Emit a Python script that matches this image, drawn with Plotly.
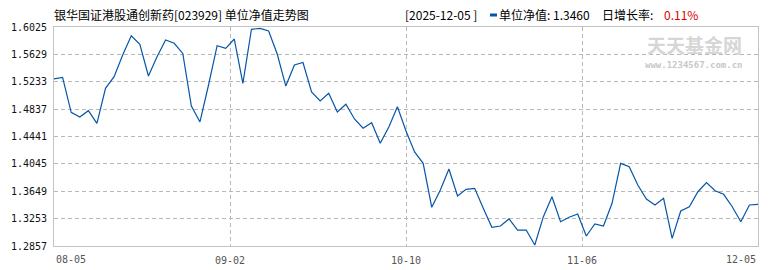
import plotly.graph_objects as go

title_text = "银华国证港股通创新药[023929] 单位净值走势图"
date_text = "[2025-12-05 ]"
nav_label = "单位净值: 1.3460"
growth_label = "日增长率: "
growth_value = "0.11%"

x_labels = ["08-05", "09-02", "10-10", "11-06", "12-05"]
y_ticks = [1.2857, 1.3253, 1.3649, 1.4045, 1.4441, 1.4837, 1.5233, 1.5629, 1.6025]

nav = [
    1.5273, 1.5297, 1.4790, 1.4723, 1.4814, 1.4632, 1.5138, 1.5306, 1.5620, 1.5899,
    1.5775, 1.5316, 1.5595, 1.5837, 1.5789, 1.5642, 1.4882, 1.4651, 1.5186, 1.5755,
    1.5717, 1.5851, 1.5210, 1.5992, 1.6006, 1.5967, 1.5634, 1.5171, 1.5475, 1.5511,
    1.5085, 1.4955, 1.5066, 1.4795, 1.4907, 1.4694, 1.4560, 1.4641, 1.4343, 1.4579,
    1.4872, 1.4520, 1.4217, 1.4053, 1.3417, 1.3667, 1.3971, 1.3580, 1.3677, 1.3692,
    1.3402, 1.3127, 1.3146, 1.3248, 1.3088, 1.3088, 1.2871, 1.3281, 1.3570, 1.3208,
    1.3272, 1.3320, 1.3002, 1.3175, 1.3146, 1.3475, 1.4053, 1.4004, 1.3739, 1.3537,
    1.3450, 1.3547, 1.2968, 1.3363, 1.3425, 1.3642, 1.3773, 1.3657, 1.3605, 1.3425,
    1.3208, 1.3450, 1.3460,
]

n = len(nav)
xs = list(range(n))
last = n - 1
tick_pos = [last * f for f in (0, 0.25, 0.5, 0.75, 1.0)]

LINE = "#0656a8"
GRID = "#b8b8b8"
FRAME = "#c4c4c4"
CJK = "Noto Sans CJK SC"
MONO = "DejaVu Sans Mono"

fig = go.Figure()
fig.add_trace(go.Scatter(x=xs, y=nav, mode="lines",
                         line=dict(color=LINE, width=1.2), hoverinfo="skip"))

fig.update_layout(
    width=770, height=270,
    margin=dict(l=54, r=12, t=27, b=24),
    paper_bgcolor="white", plot_bgcolor="white",
    showlegend=False, hovermode=False,
)

fig.update_xaxes(
    range=[0, last], tickmode="array",
    tickvals=tick_pos[1:-1], ticktext=x_labels[1:-1],
    showgrid=True, gridcolor=GRID, griddash="4px,3px", gridwidth=1,
    showline=True, linecolor=FRAME, linewidth=1, mirror=True,
    ticks="", tickfont=dict(family=MONO, size=10, color="#555555"),
    ticklabelstandoff=5, automargin=False,
    zeroline=False, fixedrange=True,
)
fig.update_yaxes(
    range=[y_ticks[0], y_ticks[-1]], tickmode="array",
    tickvals=y_ticks, ticktext=[f"{v:.4f}" for v in y_ticks],
    showgrid=True, gridcolor=GRID, griddash="4px,3px", gridwidth=1,
    showline=True, linecolor=FRAME, linewidth=1, mirror=True,
    ticks="", tickfont=dict(family=MONO, size=10, color="#111111"),
    ticklabelstandoff=4, automargin=False,
    zeroline=False, fixedrange=True,
)

# end x labels (first left-aligned, last right-aligned)
fig.add_annotation(x=tick_pos[0], y=0, xref="x", yref="paper", text=x_labels[0],
                   showarrow=False, xanchor="left", yanchor="top", yshift=-6,
                   font=dict(family=MONO, size=10, color="#555555"))
fig.add_annotation(x=tick_pos[-1], y=0, xref="x", yref="paper", text=x_labels[-1],
                   showarrow=False, xanchor="right", yanchor="top", yshift=-6,
                   font=dict(family=MONO, size=10, color="#555555"))

def px(xp):
    return (xp - 54) / 704.0

def py(yp):
    return (246 - yp) / 219.0

hy = py(14)
fig.add_annotation(x=px(52), y=hy, xref="paper", yref="paper", text=title_text,
                   showarrow=False, xanchor="left", yanchor="middle",
                   font=dict(family=CJK, size=12, color="#000000"))
fig.add_annotation(x=px(403), y=hy, xref="paper", yref="paper", text=date_text,
                   showarrow=False, xanchor="left", yanchor="middle",
                   font=dict(family=CJK, size=12, color="#000000"))
fig.add_shape(type="rect", xref="paper", yref="paper",
              x0=px(490), x1=px(497), y0=py(16.5), y1=py(13.5),
              fillcolor=LINE, line=dict(width=0))
fig.add_annotation(x=px(497), y=hy, xref="paper", yref="paper", text=nav_label,
                   showarrow=False, xanchor="left", yanchor="middle",
                   font=dict(family=CJK, size=12, color="#000000"))
fig.add_annotation(x=px(600), y=hy, xref="paper", yref="paper", text=growth_label,
                   showarrow=False, xanchor="left", yanchor="middle",
                   font=dict(family=CJK, size=12, color="#000000"))
fig.add_annotation(x=px(662), y=hy, xref="paper", yref="paper", text=growth_value,
                   showarrow=False, xanchor="left", yanchor="middle",
                   font=dict(family=CJK, size=12, color="#dd0000"))

# watermark
fig.add_annotation(x=px(694), y=py(44), xref="paper", yref="paper", text="<b>天天基金网</b>",
                   showarrow=False, xanchor="center", yanchor="middle", borderpad=0,
                   font=dict(family=CJK, size=19, color="#d6d6d6"))
fig.add_annotation(x=px(694), y=py(65), xref="paper", yref="paper", text="<b>www.1234567.com.cn</b>",
                   showarrow=False, xanchor="center", yanchor="middle", borderpad=0,
                   font=dict(family=MONO, size=9, color="#c8c8c8"))

fig.write_html("out.html")
